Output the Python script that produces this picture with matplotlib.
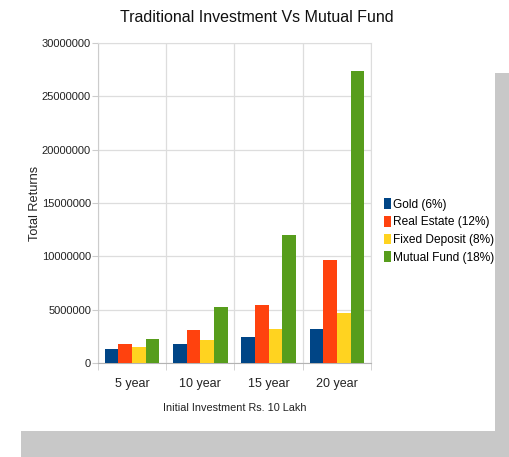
import numpy as np
import matplotlib
matplotlib.use('Agg')
import matplotlib.pyplot as plt
from matplotlib.patches import Rectangle, Patch

# returns on 10 lakh (Rs.) after n years
periods = ['5 year', '10 year', '15 year', '20 year']
gold = [1340000, 1790000, 2400000, 3210000]
real_estate = [1760000, 3110000, 5470000, 9650000]
fixed_deposit = [1470000, 2160000, 3170000, 4660000]
mutual_fund = [2290000, 5230000, 11970000, 27390000]

names = ['Gold (6%)', 'Real Estate (12%)', 'Fixed Deposit (8%)', 'Mutual Fund (18%)']
colors = ['#004586', '#ff420e', '#ffd320', '#579d1c']
yticks = [0, 5000000, 10000000, 15000000, 20000000, 25000000, 30000000]

font = ['Liberation Sans', 'DejaVu Sans']
plt.rcParams['font.family'] = font

W, H = 510, 457
fig = plt.figure(figsize=(W / 100, H / 100), dpi=100)
fig.patch.set_facecolor('white')

# grey drop shadow behind the white chart panel
fig.patches.append(Rectangle((21 / W, 0), 1 - 21 / W, (H - 73) / H,
                             transform=fig.transFigure, facecolor='#c8c8c8',
                             edgecolor='none', zorder=-2))
fig.patches.append(Rectangle((0, 26 / H), 495 / W, 1 - 26 / H,
                             transform=fig.transFigure, facecolor='white',
                             edgecolor='none', zorder=-1))

ax = fig.add_axes([98 / W, 94 / H, (371 - 98) / W, (363 - 43) / H])
ax.set_zorder(2)
ax.set_facecolor('white')

x = np.arange(len(periods))
width = 0.2
series = [gold, real_estate, fixed_deposit, mutual_fund]
for i, vals in enumerate(series):
    ax.bar(x + (i - 1.5) * width, vals, width, color=colors[i], zorder=3)

ax.set_xlim(-0.5, len(periods) - 0.5)
ax.set_ylim(0, 30000000)
ax.set_yticks(yticks)
ax.set_yticklabels([str(v) for v in yticks], fontsize=8.0, color='#222222')
ax.set_xticks(x)
ax.set_xticklabels(periods, fontsize=9, color='#222222')
ax.set_xticks(np.arange(-0.5, len(periods)), minor=True)

ax.tick_params(axis='x', which='major', length=0, pad=11)
ax.tick_params(axis='x', which='minor', length=5, color='#cccccc', direction='out')
ax.tick_params(axis='y', length=4, color='#cccccc', pad=1)

ax.grid(axis='y', color='#dddddd', linewidth=0.9, zorder=0)
ax.grid(axis='x', which='minor', color='#dddddd', linewidth=0.9, zorder=0)
for side in ['top', 'right']:
    ax.spines[side].set_color('#dddddd')
ax.spines['left'].set_color('#cccccc')
ax.spines['bottom'].set_color('#b3b3b3')

ax.set_xlabel('Initial Investment Rs. 10 Lakh', fontsize=7.8, color='#222222', labelpad=9)
ax.set_ylabel('Total Returns', fontsize=9.2, color='#222222')
ax.yaxis.set_label_coords(-0.21, 0.5)

fig.text(257 / W, 1 - 17 / H, 'Traditional Investment Vs Mutual Fund',
         fontsize=11.5, ha='center', va='center', color='#111111')

handles = [Patch(facecolor=c, edgecolor='none') for c in colors]
fig.legend(handles, names, loc='center left', bbox_to_anchor=(379 / W, 1 - 231 / H),
           frameon=False, prop={'size': 8.6}, handlelength=0.6,
           handleheight=1.0, handletextpad=0.2, labelspacing=0.45, borderaxespad=0)

fig.savefig('out.png', dpi=100)
